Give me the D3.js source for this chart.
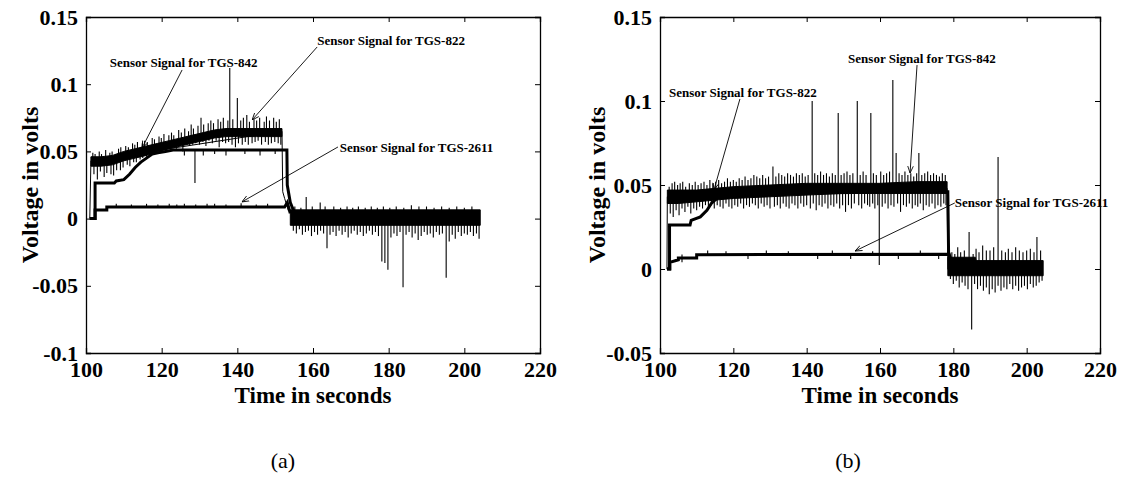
<!DOCTYPE html>
<html>
<head>
<meta charset="utf-8">
<script src="https://cdn.jsdelivr.net/npm/d3@7"></script>
<style>
  body { margin: 0; background: #fff; }
  svg { display: block; }
  text { font-family: "Liberation Serif", "Times New Roman", serif; fill: #000; }
</style>
</head>
<body>
<svg id="chart" width="1121" height="481"></svg>
<script>
// ---- axes ----
const xTicks = [100, 120, 140, 160, 180, 200, 220];
const yTicksA = [-0.1, -0.05, 0, 0.05, 0.1, 0.15];
const yTicksB = [-0.05, 0, 0.05, 0.1, 0.15];

// ---- panel (a) ----
// TGS-822: noisy upper band (dense core envelope) + noise spikes
const a822Band = {
  t:  [101.3, 104, 107, 110, 113, 116, 119, 122, 125, 128, 131, 134, 137, 140, 145, 151.8],
  lo: [0.039, 0.039, 0.040, 0.043, 0.045, 0.047, 0.050, 0.052, 0.054, 0.056, 0.058, 0.060, 0.061, 0.061, 0.061, 0.061],
  hi: [0.046, 0.046, 0.047, 0.050, 0.052, 0.054, 0.056, 0.058, 0.060, 0.062, 0.064, 0.066, 0.067, 0.067, 0.067, 0.067]
};
const a822Up = [
  [101.8, 0.049], [102.4, 0.048], [103.5, 0.050], [104.1, 0.048], [105.2, 0.051], [106.3, 0.049], [106.9, 0.050],
  [107.9, 0.048], [108.6, 0.052], [109.2, 0.053], [110.5, 0.054], [111.2, 0.053], [112.3, 0.056], [112.9, 0.055],
  [113.6, 0.057], [114.9, 0.056], [115.5, 0.058], [116.2, 0.057], [117.5, 0.060], [118.1, 0.059], [119.3, 0.061],
  [119.9, 0.060], [120.6, 0.063], [121.9, 0.062], [122.6, 0.064], [123.2, 0.062], [124.5, 0.066], [125.2, 0.064],
  [126.1, 0.067], [127.1, 0.065], [127.8, 0.070], [128.4, 0.067], [129.6, 0.069], [130.4, 0.075], [131.1, 0.070],
  [132.3, 0.071], [133, 0.073], [133.7, 0.071], [134.9, 0.074], [135.6, 0.072], [136.3, 0.075], [137.5, 0.073],
  [138, 0.112], [138.8, 0.074], [140, 0.0897], [140.9, 0.073], [141.6, 0.075], [142.5, 0.077], [143.2, 0.072],
  [144.4, 0.074], [145.1, 0.073], [145.9, 0.075], [147.1, 0.072], [147.7, 0.076], [148.5, 0.073], [149.6, 0.075],
  [150.3, 0.072], [151.1, 0.074]
];
const a822Down = [
  [102.1, 0.033], [103, 0.029], [103.8, 0.035], [104.8, 0.031], [105.5, 0.034], [106.6, 0.033], [107.3, 0.032],
  [108.1, 0.036], [109.1, 0.036], [109.8, 0.038], [110.9, 0.040], [111.6, 0.039], [112.6, 0.042], [113.3, 0.042],
  [114.3, 0.044], [115, 0.045], [116, 0.046], [116.9, 0.047], [117.7, 0.048], [118.5, 0.048], [119.6, 0.050],
  [120.3, 0.050], [121.3, 0.051], [122.1, 0.052], [122.9, 0.053], [123.9, 0.052], [124.7, 0.054], [125.6, 0.050],
  [126.4, 0.055], [127.4, 0.054], [128.2, 0.055], [129, 0.056], [130, 0.055], [130.9, 0.057], [131.7, 0.054],
  [132.5, 0.058], [133.4, 0.056], [134.4, 0.058], [135.2, 0.053], [136.1, 0.057], [136.9, 0.056], [137.7, 0.057],
  [138.6, 0.055], [139.5, 0.053], [140.3, 0.056], [141.3, 0.055], [142.1, 0.057], [142.9, 0.055], [143.9, 0.056],
  [144.7, 0.057], [145.5, 0.058], [146.4, 0.055], [147.4, 0.057], [148.2, 0.055], [149, 0.056], [149.9, 0.057],
  [150.8, 0.056], [151.5, 0.055]
];
const a822Edge = {
  t: [101.0, 101.3, 151.8, 152.0, 152.5, 153.5, 154.2],
  v: [0, 0.043, 0.065, 0.020, 0.015, 0.006, 0.004]
};
// TGS-842: stepped ramp to 0.05
const a842 = {
  t: [101.0, 102.4, 102.4, 107.5, 108, 110, 111.5, 113, 114.5, 116, 117.5, 119, 121, 123, 153.1, 153.2, 154, 155, 156],
  v: [0, 0, 0.0265, 0.0265, 0.028, 0.029, 0.033, 0.038, 0.042, 0.045, 0.048, 0.049, 0.050, 0.051, 0.051, 0.025, 0.012, 0.005, 0.003]
};
const a842Spikes = [[128.8, 0.0265], [126, 0.047], [131, 0.047], [134, 0.048], [137, 0.047], [142, 0.048], [146, 0.047], [150, 0.048]];
// TGS-2611: flat low line
const a2611 = {
  t: [101.0, 102.4, 102.4, 105.5, 105.5, 152.5, 153.2, 154],
  v: [0, 0, 0.0064, 0.0064, 0.0086, 0.0086, 0.012, 0.004]
};
const a2611Spikes = [[108, 0.011], [112, 0.0105], [116, 0.011], [119, 0.0105], [122, 0.011], [124, 0.0105], [126, 0.011],
  [129, 0.0105], [132, 0.011], [134, 0.011], [137, 0.0105], [141, 0.0115], [145, 0.0105], [148, 0.011]];
// after gas off: noisy band near zero
const aPost = { t: [154, 204.2], lo: [-0.005, -0.005], hi: [0.0065, 0.0065] };
const aPostDown = [
  [154.8, -0.009], [155.6, -0.011], [156.4, -0.008], [157.2, -0.012], [158, -0.010], [158.8, -0.009], [159.6, -0.013],
  [160.4, -0.010], [161.2, -0.012], [162, -0.009], [162.8, -0.011], [163.7, -0.022], [164.5, -0.012], [165.3, -0.010],
  [166.1, -0.013], [166.9, -0.009], [167.7, -0.012], [168.5, -0.010], [169.3, -0.014], [170.1, -0.011], [170.9, -0.009],
  [171.7, -0.012], [172.5, -0.010], [173.3, -0.013], [174.1, -0.011], [174.9, -0.009], [175.7, -0.012], [176.5, -0.010],
  [177.3, -0.013], [178.2, -0.032], [179, -0.033], [179.8, -0.038], [180.6, -0.014], [181.4, -0.011], [182.2, -0.013],
  [183, -0.010], [183.8, -0.051], [184.6, -0.012], [185.4, -0.010], [186.2, -0.014], [187, -0.011], [187.8, -0.016],
  [188.6, -0.013], [189.4, -0.010], [190.2, -0.012], [191, -0.011], [191.8, -0.014], [192.6, -0.010], [193.4, -0.012],
  [194.2, -0.011], [195.2, -0.044], [196, -0.017], [196.8, -0.012], [197.6, -0.015], [198.4, -0.010], [199.2, -0.013],
  [200, -0.011], [200.8, -0.012], [201.6, -0.010], [202.4, -0.013], [203.2, -0.011], [203.9, -0.015]
];
const aPostUp = [
  [155.2, 0.009], [156.8, 0.008], [158.2, 0.016], [159.8, 0.009], [161.9, 0.012], [163.2, 0.009], [165.5, 0.009],
  [167.3, 0.008], [169, 0.009], [170.5, 0.008], [172, 0.009], [173.8, 0.008], [175.4, 0.009], [177, 0.008],
  [178.6, 0.009], [180.3, 0.008], [182, 0.009], [184, 0.008], [186, 0.010], [188, 0.009], [190, 0.009], [192, 0.008],
  [194, 0.009], [196, 0.008], [198, 0.009], [200, 0.008], [202, 0.009]
];

// ---- panel (b) ----
const b842Band = {
  t:  [102.0, 105, 110, 115, 120, 130, 140, 150, 160, 170, 178.3],
  lo: [0.039, 0.039, 0.040, 0.041, 0.042, 0.043, 0.044, 0.045, 0.045, 0.045, 0.045],
  hi: [0.047, 0.047, 0.047, 0.048, 0.049, 0.050, 0.051, 0.051, 0.051, 0.052, 0.052]
};
const b842Up = [
  [102.5, 0.049], [103.3, 0.051], [104, 0.052], [104.8, 0.050], [105.5, 0.051], [106.2, 0.052], [107, 0.049],
  [108, 0.051], [108.8, 0.050], [109.6, 0.052], [110.4, 0.050], [111.2, 0.051], [112, 0.052], [112.8, 0.050],
  [113.6, 0.053], [114.4, 0.051], [115.2, 0.052], [116, 0.053], [116.8, 0.051], [117.6, 0.052], [118.4, 0.054],
  [119.2, 0.052], [120, 0.053], [120.8, 0.052], [121.6, 0.054], [122.4, 0.053], [123.2, 0.055], [124, 0.053],
  [124.8, 0.054], [125.6, 0.056], [126.4, 0.055], [127.2, 0.054], [128, 0.056], [128.8, 0.054], [129.6, 0.055],
  [130.8, 0.061], [131.6, 0.055], [132.4, 0.057], [133.2, 0.056], [134, 0.055], [134.8, 0.057], [135.6, 0.056],
  [136.4, 0.055], [137.2, 0.057], [138, 0.056], [138.8, 0.057], [139.6, 0.055], [140.4, 0.056], [141.5, 0.100],
  [142.2, 0.057], [143, 0.056], [143.8, 0.058], [144.6, 0.056], [145.4, 0.057], [146.2, 0.055], [147, 0.057],
  [147.8, 0.056], [148.6, 0.0929], [149.4, 0.056], [150.2, 0.057], [151, 0.058], [151.8, 0.056], [152.6, 0.057],
  [153.8, 0.100], [154.6, 0.056], [155.4, 0.058], [156.2, 0.056], [157.5, 0.0929], [158.2, 0.057], [159, 0.056],
  [160.2, 0.058], [161, 0.056], [161.8, 0.057], [162.6, 0.058], [163.5, 0.1125], [164.4, 0.069], [165.2, 0.057],
  [166, 0.056], [166.8, 0.058], [167.6, 0.056], [168.4, 0.057], [169.2, 0.055], [170, 0.057], [170.6, 0.069],
  [171.4, 0.056], [172.2, 0.057], [173, 0.058], [173.8, 0.056], [174.6, 0.057], [175.4, 0.056], [176.2, 0.055],
  [177, 0.057], [177.8, 0.056]
];
const b842Down = [
  [102.8, 0.033], [103.6, 0.031], [104.4, 0.035], [105.2, 0.032], [106, 0.036], [106.8, 0.034], [107.6, 0.037],
  [108.4, 0.033], [109.2, 0.036], [110, 0.035], [110.8, 0.037], [111.6, 0.036], [112.4, 0.038], [113.2, 0.037],
  [114, 0.038], [114.8, 0.036], [115.6, 0.038], [116.4, 0.037], [117.2, 0.036], [118, 0.039], [118.8, 0.037],
  [119.6, 0.036], [120.4, 0.038], [121.2, 0.037], [122, 0.039], [122.8, 0.036], [123.6, 0.038], [124.4, 0.037],
  [125.2, 0.039], [126, 0.038], [126.8, 0.036], [127.6, 0.039], [128.4, 0.037], [129.2, 0.038], [130, 0.036],
  [131.2, 0.037], [132, 0.038], [132.8, 0.036], [133.6, 0.039], [134.4, 0.037], [135.2, 0.036], [136, 0.039],
  [136.8, 0.038], [137.6, 0.036], [138.4, 0.039], [139.2, 0.037], [140, 0.038], [141, 0.036], [141.8, 0.039],
  [142.6, 0.035], [143.4, 0.038], [144.2, 0.037], [145, 0.039], [145.8, 0.036], [146.6, 0.038], [147.4, 0.037],
  [148.2, 0.039], [149, 0.036], [149.8, 0.038], [150.6, 0.034], [151.4, 0.038], [152.2, 0.036], [153, 0.039],
  [154.2, 0.038], [155, 0.036], [155.8, 0.039], [156.6, 0.038], [157.2, 0.037], [158, 0.039], [158.6, 0.036],
  [159.4, 0.038], [159.8, 0.0024], [160.6, 0.037], [161.4, 0.039], [162.2, 0.036], [163, 0.038], [163.8, 0.037],
  [164.8, 0.039], [165.6, 0.034], [166.4, 0.038], [167.2, 0.037], [168, 0.039], [168.8, 0.036], [169.6, 0.038],
  [170.3, 0.037], [171, 0.039], [171.8, 0.035], [172.6, 0.038], [173.4, 0.037], [174.2, 0.039], [175, 0.036],
  [175.8, 0.038], [176.6, 0.037], [177.4, 0.039], [178, 0.038]
];
const b842Edge = { t: [101.9, 102.0, 178.3, 178.5, 179.2, 180], v: [0, 0.043, 0.048, 0.000, -0.002, 0.001] };
const b822 = {
  t: [101.9, 102.6, 102.6, 108.2, 108.5, 111, 112.8, 114, 115.5, 117, 120, 178.5, 178.7, 179.5, 180],
  v: [0, 0, 0.0262, 0.0262, 0.029, 0.031, 0.035, 0.039, 0.042, 0.044, 0.045, 0.046, 0.010, 0.004, 0.002]
};
const b2611 = {
  t: [101.9, 102.7, 102.7, 105, 105, 110, 110, 178.8, 179.4, 180],
  v: [0, 0, 0.004, 0.0055, 0.0065, 0.0065, 0.0085, 0.0088, 0.003, 0.001]
};
const b2611Spikes = [[106, 0.004], [113, 0.011], [118, 0.0105], [124, 0.006], [129, 0.011], [135, 0.0105], [143, 0.006],
  [147, 0.011], [152, 0.006], [158, 0.0105], [165, 0.006], [171, 0.011], [176, 0.006]];
const bPost = { t: [178.5, 186, 186.2, 204.5], lo: [-0.004, -0.004, -0.004, -0.004], hi: [0.007, 0.007, 0.005, 0.005] };
const bPostDown = [
  [179.2, -0.006], [180, -0.009], [180.8, -0.007], [181.6, -0.011], [182.4, -0.008], [183.2, -0.010], [184, -0.012],
  [185, -0.036], [185.8, -0.009], [186.6, -0.012], [187.4, -0.010], [188.2, -0.013], [189, -0.011], [189.8, -0.015],
  [190.6, -0.012], [191.4, -0.014], [192.2, -0.010], [193, -0.013], [193.8, -0.011], [194.6, -0.012], [195.4, -0.009],
  [196.2, -0.012], [197, -0.010], [197.8, -0.013], [198.6, -0.011], [199.4, -0.010], [200.2, -0.012], [201, -0.009],
  [201.8, -0.011], [202.6, -0.010], [203.4, -0.008], [204.2, -0.007]
];
const bPostUp = [
  [179.6, 0.010], [180.4, 0.009], [181.2, 0.013], [182, 0.010], [183, 0.011], [184.3, 0.022], [185.4, 0.009],
  [186.2, 0.012], [187, 0.010], [188, 0.014], [189, 0.011], [190, 0.011], [191, 0.013], [192.2, 0.0667],
  [193.2, 0.011], [194.2, 0.010], [195, 0.012], [196, 0.010], [197, 0.013], [198, 0.011], [199, 0.010],
  [200, 0.011], [201, 0.012], [202, 0.010], [202.8, 0.019], [203.8, 0.011]
];

const svg = d3.select('#chart');

function drawPanel(opt) {
  const w = opt.right - opt.left, h = opt.bottom - opt.top;
  const x = d3.scaleLinear().domain([100, 220]).range([0, w]);
  const y = d3.scaleLinear().domain(opt.yDomain).range([h, 0]);
  const g = svg.append('g').attr('transform', 'translate(' + opt.left + ',' + opt.top + ')');
  const fmt = d => String(+d.toFixed(2));

  // data marks
  const marks = g.append('g');
  const area = d3.area().x(d => x(d[0])).y0(d => y(d[1])).y1(d => y(d[2]));
  const line = d3.line().x(d => x(d[0])).y(d => y(d[1]));

  opt.bands.forEach(b => {
    marks.append('path')
      .datum(b.t.map((t, i) => [t, b.lo[i], b.hi[i]]))
      .attr('d', area)
      .attr('fill', '#000')
      .attr('stroke', '#000')
      .attr('stroke-width', 1);
  });
  opt.spikes.forEach(s => {
    marks.selectAll(null)
      .data(s.pts)
      .enter().append('line')
        .attr('x1', d => x(d[0])).attr('x2', d => x(d[0]))
        .attr('y1', d => y(s.base(d[0], d[1])))
        .attr('y2', d => y(d[1]))
        .attr('stroke', '#000')
        .attr('stroke-width', 1.1);
  });
  opt.lines.forEach(l => {
    marks.append('path')
      .datum(l.t.map((t, i) => [t, l.v[i]]))
      .attr('d', line)
      .attr('fill', 'none')
      .attr('stroke', '#000')
      .attr('stroke-width', l.w || 1);
  });

  // box and inward ticks
  const axB = g.append('g').attr('transform', 'translate(0,' + h + ')')
    .call(d3.axisBottom(x).tickValues(xTicks).tickSize(-5).tickFormat(d3.format('d')));
  g.append('g')
    .call(d3.axisLeft(y).tickValues(opt.yTicks).tickSize(-5).tickPadding(8).tickFormat(fmt));
  g.append('g').call(d3.axisTop(x).tickValues(xTicks).tickSize(-5).tickFormat(''));
  g.append('g').attr('transform', 'translate(' + w + ',0)')
    .call(d3.axisRight(y).tickValues(opt.yTicks).tickSize(-5).tickFormat(''));
  g.selectAll('.domain').attr('stroke', '#000').attr('stroke-width', 1.3);
  g.selectAll('.tick line').attr('stroke', '#000');
  g.selectAll('.tick text')
    .style('font-family', '"Liberation Serif", serif')
    .style('font-size', '22px').style('font-weight', 'bold').attr('fill', '#000');
  axB.selectAll('.tick text').attr('dy', '0.71em').attr('y', 8);

  // axis titles
  g.append('text')
    .attr('transform', 'translate(' + opt.yTitleX + ',' + h / 2 + ') rotate(-90)')
    .attr('text-anchor', 'middle')
    .style('font-size', '24px').style('font-weight', 'bold')
    .text('Voltage in volts');
  g.append('text')
    .attr('x', w / 2).attr('y', h + 50)
    .attr('text-anchor', 'middle')
    .style('font-size', '23px').style('font-weight', 'bold')
    .text('Time in seconds');
  g.append('text')
    .attr('x', opt.capX).attr('y', h + 115)
    .attr('text-anchor', 'middle')
    .style('font-size', '22px')
    .text(opt.caption);

  // annotations
  opt.notes.forEach(n => {
    g.append('line')
      .attr('x1', x(n.from[0])).attr('y1', y(n.from[1]))
      .attr('x2', x(n.to[0])).attr('y2', y(n.to[1]))
      .attr('stroke', '#000').attr('stroke-width', 0.9)
      .attr('marker-end', 'url(#arrow)');
    g.append('text')
      .attr('x', x(n.at[0])).attr('y', y(n.at[1]))
      .style('font-size', '13px').style('font-weight', 'bold')
      .text(n.text);
  });
}

svg.append('defs').append('marker')
  .attr('id', 'arrow').attr('viewBox', '0 0 10 10')
  .attr('refX', 10).attr('refY', 5)
  .attr('markerWidth', 7).attr('markerHeight', 7)
  .attr('markerUnits', 'userSpaceOnUse')
  .attr('orient', 'auto')
  .append('path').attr('d', 'M0,1 L10,5 L0,9').attr('fill', 'none').attr('stroke', '#000').attr('stroke-width', 1.2);

// spike base: middle of a band at time t
const bandMid = b => t => {
  let i = d3.bisectLeft(b.t, t);
  i = Math.max(1, Math.min(i, b.t.length - 1));
  const f = (t - b.t[i - 1]) / (b.t[i] - b.t[i - 1]);
  return (b.lo[i - 1] + f * (b.lo[i] - b.lo[i - 1]) + b.hi[i - 1] + f * (b.hi[i] - b.hi[i - 1])) / 2;
};

drawPanel({
  left: 86, top: 17, right: 540, bottom: 353,
  yDomain: [-0.1, 0.15], yTicks: yTicksA, yTitleX: -48, capX: 197, caption: '(a)',
  bands: [a822Band, aPost],
  lines: [
    { t: a822Edge.t, v: a822Edge.v, w: 1 },
    { t: a842.t, v: a842.v, w: 3 },
    { t: a2611.t, v: a2611.v, w: 3 }
  ],
  spikes: [
    { pts: a822Up, base: bandMid(a822Band) },
    { pts: a822Down, base: bandMid(a822Band) },
    { pts: a842Spikes, base: () => 0.051 },
    { pts: a2611Spikes, base: () => 0.0086 },
    { pts: aPostDown, base: () => -0.003 },
    { pts: aPostUp, base: () => 0.005 }
  ],
  notes: [
    { text: 'Sensor Signal for TGS-842', at: [106.3, 0.1128], from: [125.4, 0.1106], to: [114.8, 0.0525] },
    { text: 'Sensor Signal for TGS-822', at: [161.1, 0.1292], from: [161.1, 0.1277], to: [143.9, 0.0734] },
    { text: 'Sensor Signal for TGS-2611', at: [167.1, 0.0496], from: [166.6, 0.0533], to: [141.2, 0.0124] }
  ]
});

drawPanel({
  left: 660, top: 17, right: 1100, bottom: 353,
  yDomain: [-0.05, 0.15], yTicks: yTicksB, yTitleX: -55, capX: 188, caption: '(b)',
  bands: [b842Band, bPost],
  lines: [
    { t: b842Edge.t, v: b842Edge.v, w: 1 },
    { t: b822.t, v: b822.v, w: 3 },
    { t: b2611.t, v: b2611.v, w: 3 }
  ],
  spikes: [
    { pts: b842Up, base: bandMid(b842Band) },
    { pts: b842Down, base: bandMid(b842Band) },
    { pts: b2611Spikes, base: () => 0.0086 },
    { pts: bPostDown, base: () => -0.002 },
    { pts: bPostUp, base: () => 0.003 }
  ],
  notes: [
    { text: 'Sensor Signal for TGS-842', at: [151.3, 0.1226], from: [170.1, 0.1214], to: [168.2, 0.0571] },
    { text: 'Sensor Signal for TGS-822', at: [102.45, 0.1024], from: [121.8, 0.1012], to: [114.7, 0.047] },
    { text: 'Sensor Signal for TGS-2611', at: [180.4, 0.0369], from: [180.4, 0.0393], to: [153.2, 0.0107] }
  ]
});
</script>
</body>
</html>
